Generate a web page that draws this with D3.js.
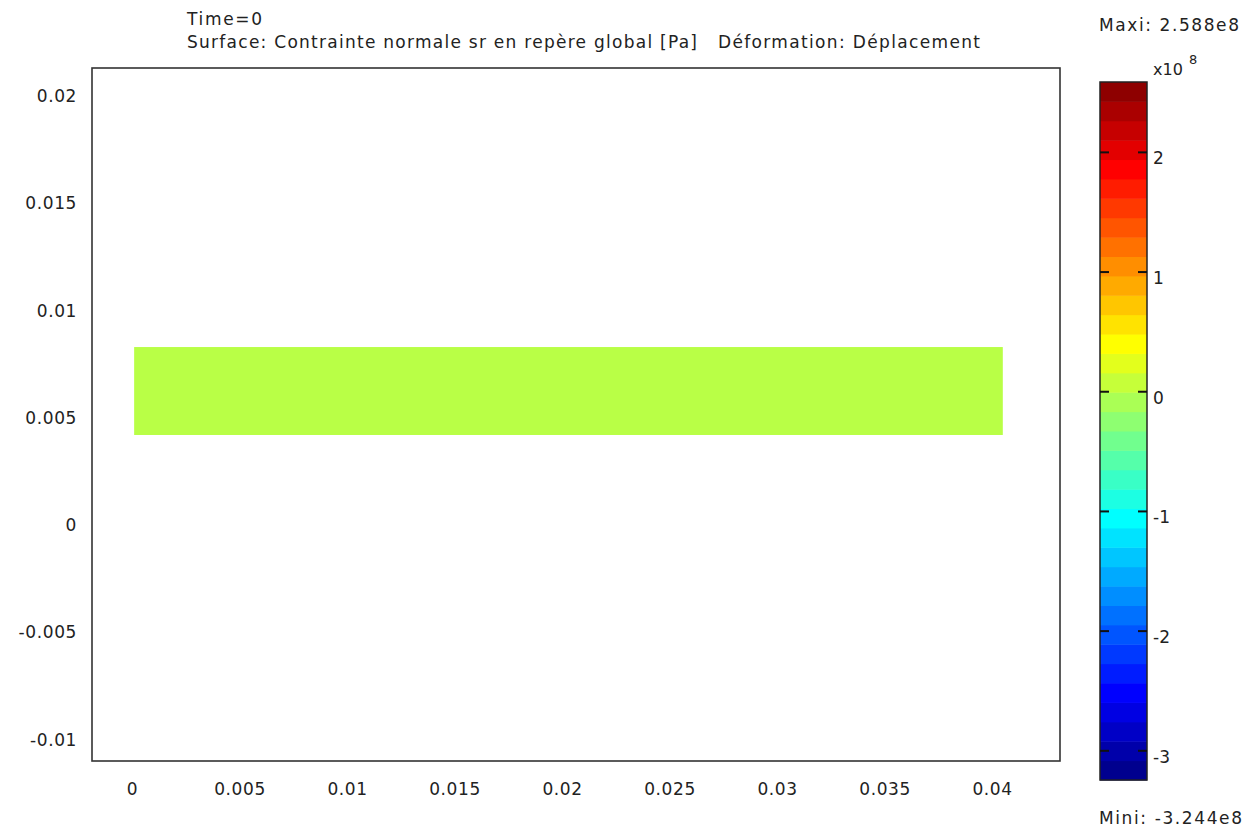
<!DOCTYPE html>
<html>
<head>
<meta charset="utf-8">
<script src="https://cdn.jsdelivr.net/npm/d3@7"></script>
<style>
  body { margin: 0; background: #fff; }
  svg { display: block; }
  text { font-family: "DejaVu Sans", Verdana, sans-serif; fill: #222; }
</style>
</head>
<body>
<div id="chart"></div>
<script>
// Data
var xTicks = [0, 0.005, 0.01, 0.015, 0.02, 0.025, 0.03, 0.035, 0.04];
var yTicks = [-0.01, -0.005, 0, 0.005, 0.01, 0.015, 0.02];
var xDomain = [-0.00186, 0.04316];
var yDomain = [-0.0110, 0.02131];
// the deformed beam (geometry, m) and its stress value (Pa)
var beamX = [0.0001, 0.0405];
var beamY = [0.0042, 0.0083];
var beamStress = 0;
// colour bar
var stressMin = -3.244e8, stressMax = 2.588e8;
var barTicks = [-3, -2, -1, 0, 1, 2];
var nBands = 36;
var titleLine1 = "Time=0";
var titleLine2a = "Surface: Contrainte normale sr en repère global [Pa]";
var titleLine2b = "Déformation: Déplacement";

var W = 1246, H = 829;
var plot = {left: 92, top: 68, right: 1060, bottom: 761};
var bar = {left: 1100, right: 1147, top: 82, bottom: 780};

var svg = d3.select("#chart").append("svg").attr("width", W).attr("height", H);

var x = d3.scaleLinear().domain(xDomain).range([plot.left, plot.right]);
var y = d3.scaleLinear().domain(yDomain).range([plot.bottom, plot.top]);

// jet colour map
function clamp(v) { return Math.max(0, Math.min(1, v)); }
function jet(t) {
    var r = clamp(1.5 - Math.abs(4 * t - 3));
    var g = clamp(1.5 - Math.abs(4 * t - 2));
    var b = clamp(1.5 - Math.abs(4 * t - 1));
    return d3.rgb(r * 255, g * 255, b * 255).formatHex();
}
var tScale = d3.scaleLinear().domain([stressMin, stressMax]).range([0, 1]).clamp(true);

// Beam
svg.append("rect")
    .attr("x", x(beamX[0]))
    .attr("y", y(beamY[1]))
    .attr("width", x(beamX[1]) - x(beamX[0]))
    .attr("height", y(beamY[0]) - y(beamY[1]))
    .attr("fill", jet(tScale(beamStress)));

// Frame
svg.append("rect")
    .attr("x", plot.left).attr("y", plot.top)
    .attr("width", plot.right - plot.left).attr("height", plot.bottom - plot.top)
    .attr("fill", "none").attr("stroke", "#333").attr("stroke-width", 1.6);

// Axes
var fmt = function (d) { return String(d); };
var xAxis = svg.append("g")
    .attr("transform", "translate(0," + plot.bottom + ")")
    .call(d3.axisBottom(x).tickValues(xTicks).tickSize(0).tickPadding(34).tickFormat(fmt));
var yAxis = svg.append("g")
    .attr("transform", "translate(" + plot.left + ",0)")
    .call(d3.axisLeft(y).tickValues(yTicks).tickSize(0).tickPadding(15).tickFormat(fmt));
[xAxis, yAxis].forEach(function (a) {
    a.select(".domain").remove();
    a.selectAll("text")
        .style("font-family", "'DejaVu Sans', Verdana, sans-serif")
        .style("font-size", "17px")
        .style("letter-spacing", "0.6px")
        .attr("fill", "#222");
});
xAxis.selectAll("text").attr("dy", "0");

// Titles
svg.append("text").attr("x", 187).attr("y", 25)
    .style("font-size", "17px").attr("textLength", 75).attr("lengthAdjust", "spacing")
    .text(titleLine1);
svg.append("text").attr("x", 187).attr("y", 48)
    .style("font-size", "17px").attr("textLength", 510).attr("lengthAdjust", "spacing")
    .text(titleLine2a);
svg.append("text").attr("x", 718).attr("y", 48)
    .style("font-size", "17px").attr("textLength", 262).attr("lengthAdjust", "spacing")
    .text(titleLine2b);

// Colour bar
var c = d3.scaleLinear().domain([stressMin / 1e8, stressMax / 1e8]).range([bar.bottom, bar.top]);
var bands = d3.range(nBands);
var bandH = (bar.bottom - bar.top) / nBands;
svg.append("g").selectAll("rect").data(bands).enter().append("rect")
    .attr("x", bar.left)
    .attr("width", bar.right - bar.left)
    .attr("y", function (i) { return bar.bottom - (i + 1) * bandH; })
    .attr("height", bandH + 0.5)
    .attr("fill", function (i) { return jet((i + 0.5) / nBands); });
svg.append("rect")
    .attr("x", bar.left).attr("y", bar.top)
    .attr("width", bar.right - bar.left).attr("height", bar.bottom - bar.top)
    .attr("fill", "none").attr("stroke", "#222").attr("stroke-width", 1.5);

var bt = svg.append("g").selectAll("g").data(barTicks).enter().append("g")
    .attr("transform", function (d) { return "translate(0," + c(d) + ")"; });
bt.append("line").attr("x1", bar.left).attr("x2", bar.left + 9)
    .attr("stroke", "#111").attr("stroke-width", 2);
bt.append("line").attr("x1", bar.right - 9).attr("x2", bar.right)
    .attr("stroke", "#111").attr("stroke-width", 2);
bt.append("text").attr("x", bar.right + 6).attr("y", 12)
    .style("font-size", "17px")
    .text(function (d) { return String(d); });

svg.append("text").attr("x", 1153).attr("y", 75).style("font-size", "16px").text("x10");
svg.append("text").attr("x", 1189).attr("y", 64).style("font-size", "13px").text("8");

svg.append("text").attr("x", 1099).attr("y", 31)
    .style("font-size", "17px").attr("textLength", 140).attr("lengthAdjust", "spacing")
    .text("Maxi: " + (stressMax / 1e8).toFixed(3) + "e8");
svg.append("text").attr("x", 1099).attr("y", 824)
    .style("font-size", "17px").attr("textLength", 143).attr("lengthAdjust", "spacing")
    .text("Mini: " + (stressMin / 1e8).toFixed(3) + "e8");
</script>
</body>
</html>
